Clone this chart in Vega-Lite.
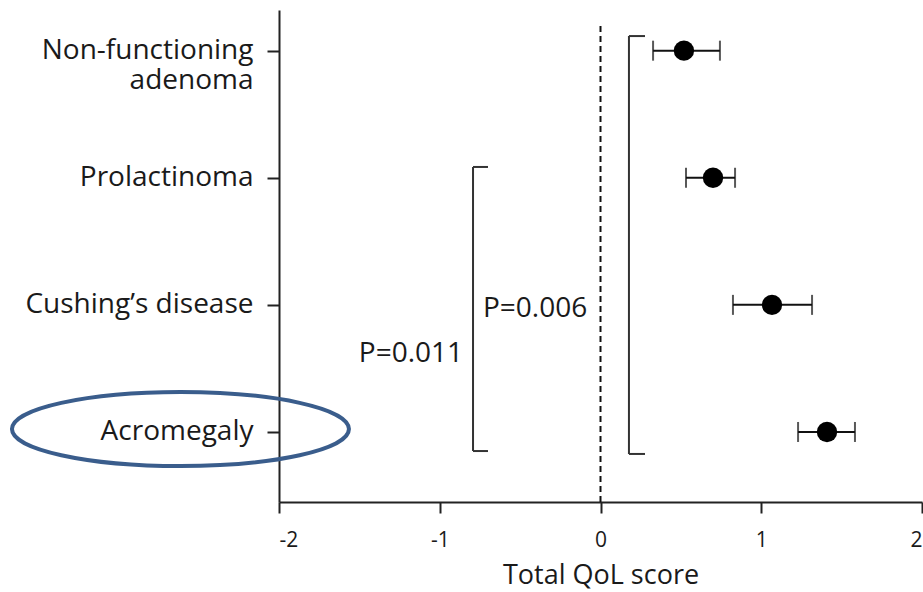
{
  "$schema": "https://vega.github.io/schema/vega-lite/v6.json",
  "width": 643,
  "height": 492,
  "autosize": {"type": "none"},
  "padding": {"left": 279, "top": 10, "right": 1, "bottom": 90},
  "background": "white",
  "config": {
    "view": {"stroke": null},
    "font": "Open Sans",
    "axis": {"grid": false, "domainColor": "#222", "tickColor": "#222", "domainWidth": 2, "tickWidth": 2, "labelColor": "#1a1a1a", "titleColor": "#1a1a1a", "labelFont": "Open Sans", "titleFont": "Open Sans", "titleFontWeight": "normal"}
  },
  "datasets": {
    "groups": [
      {"group": "Non-functioning adenoma", "pos": 4, "score": 0.519, "lo": 0.327, "hi": 0.743},
      {"group": "Prolactinoma", "pos": 3, "score": 0.700, "lo": 0.532, "hi": 0.837},
      {"group": "Cushing’s disease", "pos": 2, "score": 1.067, "lo": 0.824, "hi": 1.316},
      {"group": "Acromegaly", "pos": 1, "score": 1.409, "lo": 1.229, "hi": 1.583}
    ],
    "brackets": [
      {"bracket": "outer", "x": 0.177, "xEnd": 0.277, "top": 4.115, "bottom": 0.827},
      {"bracket": "inner", "x": -0.793, "xEnd": -0.700, "top": 3.085, "bottom": 0.850}
    ],
    "pvalues": [
      {"label": "P=0.006", "x": -0.731, "y": 1.971, "side": "left"},
      {"label": "P=0.011", "x": -0.855, "y": 1.613, "side": "right"}
    ],
    "reference": [{"x": 0, "y": 0.449, "y2": 4.226}],
    "highlight": [{"group": "Acromegaly", "x": -2.613, "y": 1.023}]
  },
  "layer": [
    {
      "data": {"name": "reference"},
      "mark": {"type": "rule", "strokeDash": [6, 4], "strokeWidth": 2, "color": "#111"},
      "encoding": {
        "x": {"field": "x", "type": "quantitative", "scale": {"domain": [-2, 2], "nice": false, "zero": false},
          "axis": {"values": [-2, -1, 0, 1, 2], "labelExpr": "datum.value < 0 ? '-' + abs(datum.value) : '' + datum.value", "labelFontSize": 21, "tickSize": 11, "labelPadding": 16, "title": "Total QoL score", "titleFontSize": 27, "titlePadding": 12}},
        "y": {"field": "y", "type": "quantitative", "scale": {"domain": [0.449, 4.32], "nice": false, "zero": false},
          "axis": {"values": [1, 2, 3, 4], "labelExpr": "datum.value == 4 ? ['Non-functioning', 'adenoma'] : datum.value == 3 ? 'Prolactinoma' : datum.value == 2 ? 'Cushing’s disease' : 'Acromegaly'", "labelFontSize": 28, "labelLineHeight": 30, "labelLimit": 400, "tickSize": 12, "labelPadding": 14, "title": null}},
        "y2": {"field": "y2"}
      }
    },
    {
      "data": {"name": "brackets"},
      "mark": {"type": "rule", "strokeWidth": 2, "color": "#333"},
      "encoding": {
        "x": {"field": "x", "type": "quantitative"},
        "y": {"field": "top", "type": "quantitative"},
        "y2": {"field": "bottom"}
      }
    },
    {
      "data": {"name": "brackets"},
      "mark": {"type": "rule", "strokeWidth": 2, "color": "#333"},
      "encoding": {
        "x": {"field": "x", "type": "quantitative"},
        "x2": {"field": "xEnd"},
        "y": {"field": "top", "type": "quantitative"}
      }
    },
    {
      "data": {"name": "brackets"},
      "mark": {"type": "rule", "strokeWidth": 2, "color": "#333"},
      "encoding": {
        "x": {"field": "x", "type": "quantitative"},
        "x2": {"field": "xEnd"},
        "y": {"field": "bottom", "type": "quantitative"}
      }
    },
    {
      "data": {"name": "groups"},
      "mark": {"type": "rule", "strokeWidth": 2, "color": "#111"},
      "encoding": {
        "x": {"field": "lo", "type": "quantitative"},
        "x2": {"field": "hi"},
        "y": {"field": "pos", "type": "quantitative"}
      }
    },
    {
      "data": {"name": "groups"},
      "mark": {"type": "tick", "orient": "vertical", "size": 20, "thickness": 2, "color": "#111"},
      "encoding": {
        "x": {"field": "lo", "type": "quantitative"},
        "y": {"field": "pos", "type": "quantitative"}
      }
    },
    {
      "data": {"name": "groups"},
      "mark": {"type": "tick", "orient": "vertical", "size": 20, "thickness": 2, "color": "#111"},
      "encoding": {
        "x": {"field": "hi", "type": "quantitative"},
        "y": {"field": "pos", "type": "quantitative"}
      }
    },
    {
      "data": {"name": "groups"},
      "mark": {"type": "point", "shape": "circle", "filled": true, "size": 415, "color": "#000", "opacity": 1},
      "encoding": {
        "x": {"field": "score", "type": "quantitative"},
        "y": {"field": "pos", "type": "quantitative"}
      }
    },
    {
      "data": {"name": "pvalues"},
      "transform": [{"filter": "datum.side == 'left'"}],
      "mark": {"type": "text", "fontSize": 28, "baseline": "middle", "align": "left", "color": "#1a1a1a"},
      "encoding": {
        "x": {"field": "x", "type": "quantitative"},
        "y": {"field": "y", "type": "quantitative"},
        "text": {"field": "label"}
      }
    },
    {
      "data": {"name": "pvalues"},
      "transform": [{"filter": "datum.side == 'right'"}],
      "mark": {"type": "text", "fontSize": 28, "baseline": "middle", "align": "right", "color": "#1a1a1a"},
      "encoding": {
        "x": {"field": "x", "type": "quantitative"},
        "y": {"field": "y", "type": "quantitative"},
        "text": {"field": "label"}
      }
    },
    {
      "data": {"name": "highlight"},
      "mark": {"type": "point", "filled": false, "shape": "M -1 0 C -1 -0.1215 -0.5523 -0.22 0 -0.22 C 0.5523 -0.22 1 -0.1215 1 0 C 1 0.1215 0.5523 0.22 0 0.22 C -0.5523 0.22 -1 0.1215 -1 0 Z", "size": 113569, "stroke": "#3a5d8c", "strokeWidth": 4, "opacity": 1},
      "encoding": {
        "x": {"field": "x", "type": "quantitative"},
        "y": {"field": "y", "type": "quantitative"}
      }
    }
  ]
}
